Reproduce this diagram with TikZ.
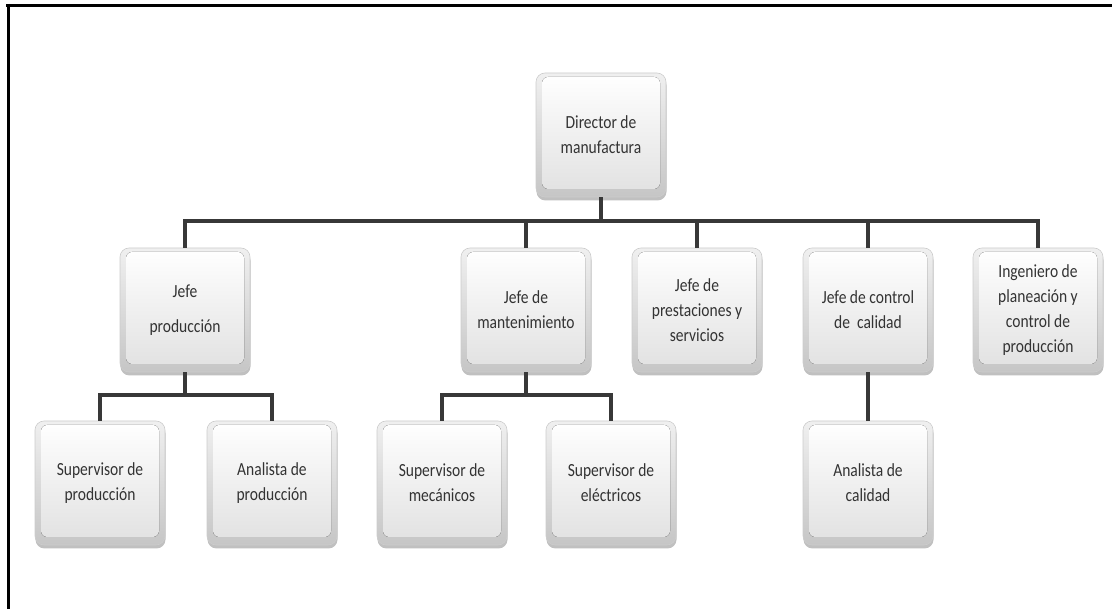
\documentclass[tikz,border=0pt]{standalone}
\usepackage{fontspec}
\setmainfont{Carlito}[FakeStretch=0.84]
\usetikzlibrary{shadows}
\definecolor{txt}{HTML}{333333}
\definecolor{wire}{HTML}{383838}
\begin{document}
\begin{tikzpicture}[x=1pt,y=-1pt,
  card/.style={rounded corners=9pt, minimum width=130pt, minimum height=124pt,
    inner sep=0pt, align=center, text=txt,
    font=\fontsize{18.5}{25}\selectfont,
    top color=gray!12, bottom color=gray!45, draw=gray!40, line width=0.6pt,
    drop shadow={shadow xshift=0.5pt, shadow yshift=-3.5pt, opacity=0.45, fill=black!55},
    path picture={\fill[rounded corners=6pt, top color=white, bottom color=gray!24]
      ([shift={(6pt,-4pt)}]path picture bounding box.north west) rectangle
      ([shift={(-6pt,8pt)}]path picture bounding box.south east);}},
  wirestyle/.style={draw=wire, line width=3.5pt}]
\useasboundingbox (0,0) rectangle (1112,609);
% page frame (top and left edges)
\draw[line width=3pt] (6,5.3) -- (1112,5.3);
\draw[line width=3pt] (8.5,4) -- (8.5,609);

% boxes
\node[card] (dir)   at (601,135) {Director de\\manufactura};
\node[card] (prod)  at (185,310) {Jefe\\[10pt]producción};
\node[card] (mant)  at (526,310) {Jefe de\\mantenimiento};
\node[card] (prest) at (697,310) {Jefe de\\prestaciones y\\servicios};
\node[card] (cal)   at (868,310) {Jefe de control\\de\ \ calidad};
\node[card] (ing)   at (1038,310) {Ingeniero de\\planeación y\\control de\\producción};
\node[card] (sp)    at (100,483) {Supervisor de\\producción};
\node[card] (ap)    at (272,483) {Analista de\\producción};
\node[card] (sm)    at (442,483) {Supervisor de\\mecánicos};
\node[card] (se)    at (611,483) {Supervisor de\\eléctricos};
\node[card] (ac)    at (868,483) {Analista de\\calidad};

% bus heights
\coordinate (busA) at (0,221);
\coordinate (busB) at (0,395);

% connectors
\begin{scope}[wirestyle]
\draw (dir.south) -- (dir.south |- busA);
\draw (prod.north) |- (ing.north |- busA) -- (ing.north);
\draw (mant.north) -- (mant.north |- busA);
\draw (prest.north) -- (prest.north |- busA);
\draw (cal.north) -- (cal.north |- busA);
\draw (prod.south) -- (prod.south |- busB);
\draw (sp.north) |- (ap.north |- busB) -- (ap.north);
\draw (mant.south) -- (mant.south |- busB);
\draw (sm.north) |- (se.north |- busB) -- (se.north);
\draw (cal.south) -- (ac.north);
\end{scope}
\end{tikzpicture}
\end{document}
